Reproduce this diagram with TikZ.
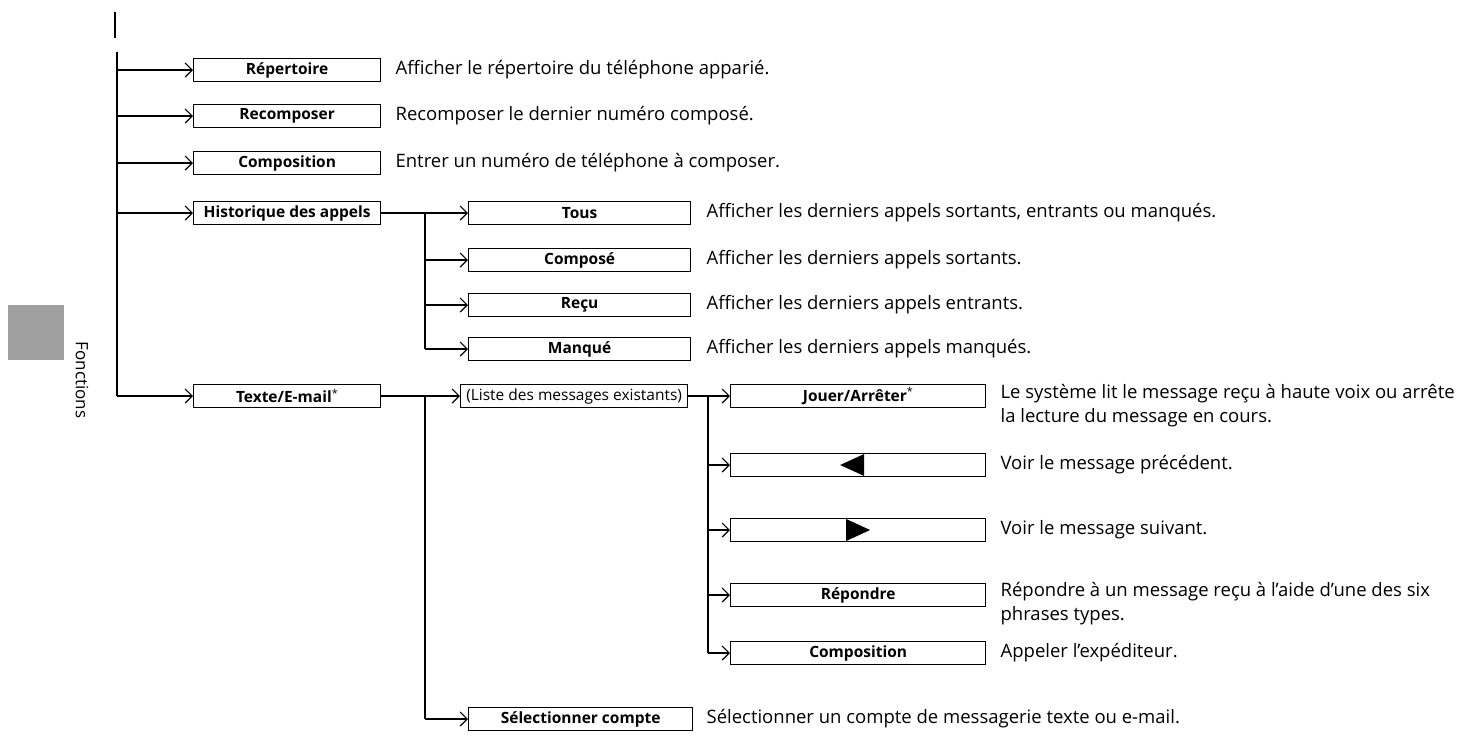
\documentclass[tikz,border=0pt]{standalone}
\usepackage{fontspec}
\setmainfont{Open Sans}
\usetikzlibrary{arrows.meta}
\begin{document}
\begin{tikzpicture}[x=1pt,y=-1pt,
  line width=1.2pt,
  arr/.style={-{Straight Barb[length=7pt,width=14pt,line width=1.2pt]}},
  bx/.style={draw,line width=1.3pt,minimum height=23pt,inner sep=0pt,font=\fontsize{15.5}{17}\selectfont\bfseries,anchor=west},
  desc/.style={anchor=west,font=\fontsize{18.5}{24}\selectfont,inner sep=0pt,align=left}]
\useasboundingbox (0,0) rectangle (1468,740);
% sidebar
\fill[gray!75] (8,305) rectangle (64,360);
\node[rotate=-90,font=\fontsize{17}{18}\selectfont] (side) at (82,380) {Fonctions};
\draw (115,12) -- (115,38);
\coordinate (t0) at (117,52);
\coordinate (t1) at (117,396);
\draw (t0) -- (t1);
% level 1
\foreach \n/\y/\t/\d in {rep/70/Répertoire/{Afficher le répertoire du téléphone apparié.},
  rec/116/Recomposer/{Recomposer le dernier numéro composé.},
  com/163/Composition/{Entrer un numéro de téléphone à composer.}}{
  \node[bx,minimum width=187pt] (\n) at (193,\y) {\t};
  \draw[arr] (117,\y) -- (\n.west);
  \node[desc] (\n d) at (395,\y) {\d};
}
\node[bx,minimum width=187pt] (his) at (193,213) {Historique des appels};
\draw[arr] (117,213) -- (his.west);
\node[bx,minimum width=187pt] (txt) at (193,396) {Texte/E-mail\textsuperscript{\normalfont*}};
\draw[arr] (t1) -- (txt.west);
% historique branch
\coordinate (h0) at (425,213);
\coordinate (h1) at (425,349);
\draw (his.east) -- (h0) (h0) -- (h1);
\foreach \n/\y/\t/\d in {tous/213/Tous/{Afficher les derniers appels sortants, entrants ou manqués.},
  cps/260/Composé/{Afficher les derniers appels sortants.},
  rcu/305/Reçu/{Afficher les derniers appels entrants.},
  mnq/349/Manqué/{Afficher les derniers appels manqués.}}{
  \node[bx,minimum width=222pt] (\n) at (468,\y) {\t};
  \draw[arr] (425,\y) -- (\n.west);
  \node[desc] (\n d) at (706,\y) {\d};
}
% texte branch
\coordinate (x0) at (425,396);
\coordinate (x1) at (425,719);
\draw (txt.east) -- (x0) (x0) -- (x1);
\node[bx,minimum width=227pt,font=\fontsize{15.5}{17}\selectfont] (lst) at (460,396) {(Liste des messages existants)};
\draw[arr] (x0) -- (lst.west);
\node[bx,minimum width=224pt] (sel) at (468,719) {Sélectionner compte};
\draw[arr] (x1) -- (sel.west);
\node[desc] (seld) at (706,719) {Sélectionner un compte de messagerie texte ou e-mail.};
% level 3
\coordinate (m0) at (708,396);
\coordinate (m1) at (708,653);
\draw (lst.east) -- (m0) (m0) -- (m1);
\node[bx,minimum width=255pt] (jou) at (730,396) {Jouer/Arrêter\textsuperscript{\normalfont*}};
\node[bx,minimum width=255pt] (prv) at (730,465) {};
\fill (prv.center) ++(-18,0) -- ++(24,-11) -- ++(0,22) -- cycle;
\node[bx,minimum width=255pt] (nxt) at (730,530) {};
\fill (nxt.center) ++(-12,-11) -- ++(24,11) -- ++(-24,11) -- cycle;
\node[bx,minimum width=255pt] (rep2) at (730,595) {Répondre};
\node[bx,minimum width=255pt] (com2) at (730,653) {Composition};
\foreach \n/\y in {jou/396,prv/465,nxt/530,rep2/595,com2/653}{
  \draw[arr] (708,\y) -- (\n.west);
}
\node[desc,anchor=north west] (joud) at (1000,384) {Le système lit le message reçu à haute voix ou arrête\\la lecture du message en cours.};
\node[desc] (prvd) at (1000,465) {Voir le message précédent.};
\node[desc] (nxtd) at (1000,530) {Voir le message suivant.};
\node[desc,anchor=north west] (rep2d) at (1000,582) {Répondre à un message reçu à l'aide d'une des six\\phrases types.};
\node[desc] (com2d) at (1000,653) {Appeler l'expéditeur.};
\end{tikzpicture}
\end{document}
